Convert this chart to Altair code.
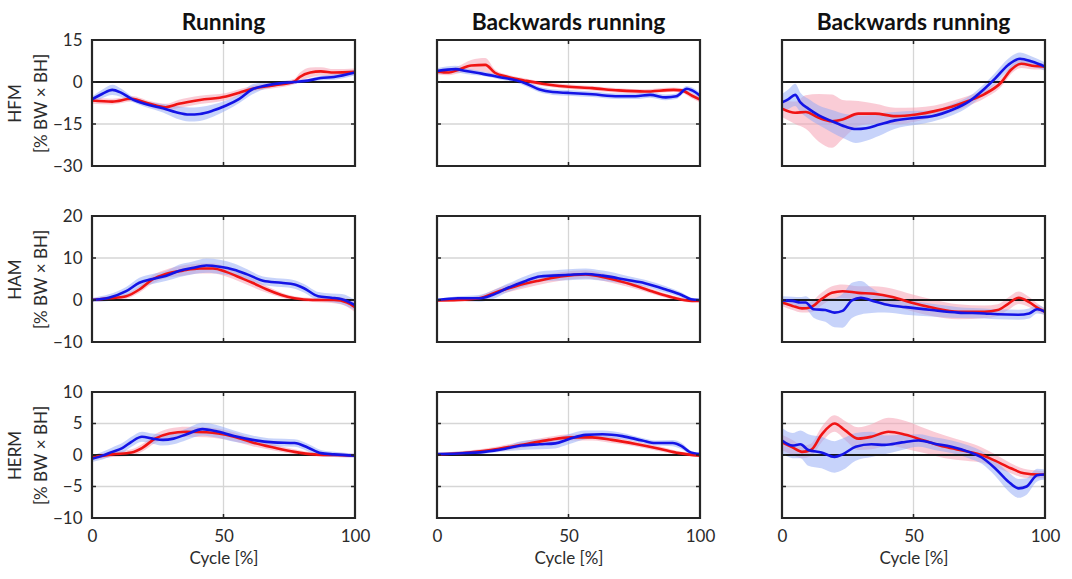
import altair as alt
import pandas as pd

# ---------------- data ----------------
COL_TITLES = ["Running", "Backwards running", "Backwards running"]
ROW_NAMES = ["HFM", "HAM", "HERM"]
Y_DOMAINS = [[-30, 15], [-10, 20], [-10, 10]]
Y_TICKS = [[-30, -15, 0, 15], [-10, 0, 10, 20], [-10, -5, 0, 5, 10]]
X_TICKS = [0, 50, 100]

# HFM - Running
HFM_RUN_BLUE_X = [0, 4, 7.7, 11, 15, 20, 27, 32, 37, 41, 46, 51, 56, 61, 66.5, 72, 77, 82, 87, 92, 100]
HFM_RUN_BLUE_Y = [-6.2, -4.2, -2.8, -3.8, -6, -7.8, -9.4, -10.8, -11.6, -11.4, -10.2, -8.4, -6, -2.6, -1.2, -0.4, 0, 0.5, 1.4, 1.8, 3.4]
HFM_RUN_BLUE_SD = [1, 1.5, 1.8, 1.5, 1, 1, 1.5, 2.2, 2.5, 2.5, 2.2, 1.8, 1.5, 1.8, 1, 0.8, 0.6, 0.6, 0.8, 1, 1]
HFM_RUN_RED_X = [0, 7.7, 15, 22, 28, 33, 41, 51, 56, 61, 69, 77, 79, 83, 87, 92, 100]
HFM_RUN_RED_Y = [-6.6, -7, -6, -7.8, -9, -7.8, -6.4, -5.2, -3.8, -2.4, -1.2, 0.2, 1.8, 3.4, 3.8, 3.4, 3.6]
HFM_RUN_RED_SD = [1.2, 1, 1, 1, 1.2, 1.5, 1.5, 1.3, 1.2, 1, 1, 1, 1.5, 1.8, 1.5, 1.2, 1.2]

# HFM - Backwards running (1)
HFM_BR1_BLUE_X = [0, 7, 11, 17, 23.5, 30, 34, 39, 44, 50, 59, 69, 75.5, 81, 87, 91, 95, 97, 100]
HFM_BR1_BLUE_Y = [3.9, 4.6, 3.9, 3, 1.8, 0.6, -0.6, -2.7, -3.6, -3.9, -4.4, -5.1, -5.1, -4.6, -5.5, -5.1, -2.4, -3, -4.9]
HFM_BR1_BLUE_SD = [1, 1.2, 1, 0.8, 0.8, 0.8, 1, 1, 1, 1, 1, 1, 1, 1, 1, 1, 1, 1, 1]
HFM_BR1_RED_X = [0, 4.5, 8, 13, 18.4, 22, 27, 34, 40, 49, 59, 69, 79, 90, 93, 97, 100]
HFM_BR1_RED_Y = [3.7, 3.4, 4.3, 5.9, 6.1, 3.3, 1.8, 0.4, -0.6, -1.6, -2.2, -3, -3.4, -2.8, -3, -4.9, -6.3]
HFM_BR1_RED_SD = [1, 1, 1.3, 2, 2.5, 1.2, 0.8, 0.8, 0.8, 0.8, 0.8, 0.8, 0.8, 0.8, 0.8, 1, 1]

# HFM - Backwards running (2)
HFM_BR2_BLUE_X = [0, 2.5, 5, 7, 10, 14, 19, 24, 28, 32, 37, 43, 51, 57, 65, 71, 77, 81, 86, 90.5, 95, 100]
HFM_BR2_BLUE_Y = [-7.3, -6.1, -4.6, -7.3, -9.5, -11.9, -14, -15.9, -16.8, -16.5, -15.2, -13.7, -12.8, -12.2, -9.8, -7, -2.4, 1.2, 6.1, 8.3, 7.3, 5.5]
HFM_BR2_BLUE_SD = [3, 3.5, 4, 3.5, 3.5, 3.5, 4, 4.5, 5, 4.5, 4, 3, 2.5, 2, 2, 1.8, 1.8, 2, 2.2, 2.2, 1.8, 1.5]
HFM_BR2_RED_X = [0, 5, 9, 14, 19, 23, 29, 35.5, 43, 51, 58, 64.5, 71, 77, 83.5, 87, 91, 96, 100]
HFM_BR2_RED_Y = [-9.5, -11, -10.7, -12.8, -14, -13.4, -11.3, -11.3, -12.2, -11.6, -10.4, -8.8, -6.7, -4.3, 0, 4.3, 6.5, 5.7, 5.5]
HFM_BR2_RED_SD = [3, 4, 6, 8.5, 9.5, 7, 4.5, 3.5, 3, 2.5, 2, 2, 1.8, 1.5, 1.5, 1.5, 1.5, 1.2, 1]

# HAM - Running
HAM_RUN_BLUE_X = [0, 6.4, 13, 18, 23, 28, 33, 38, 43.5, 48.6, 54, 59, 65, 72, 77, 80.6, 86, 91, 95, 100]
HAM_RUN_BLUE_Y = [0, 0.55, 2.1, 4.1, 5, 5.7, 6.9, 7.6, 8.2, 7.9, 7.2, 6.1, 4.6, 4.1, 3.7, 2.8, 0.9, 0.55, 0.2, -1.2]
HAM_RUN_BLUE_SD = [0.5, 0.8, 1, 1.2, 1.2, 1.2, 1.5, 1.5, 1.7, 1.7, 1.5, 1.2, 1, 1, 1, 1, 1, 1, 1.2, 1.2]
HAM_RUN_RED_X = [0, 6.4, 13, 18, 23, 28, 34.5, 41, 46, 51, 56, 61, 66.5, 72, 77, 84, 92, 97, 100]
HAM_RUN_RED_Y = [0, 0.4, 0.9, 2.5, 4.9, 6.2, 7, 7.5, 7.5, 6.7, 5.4, 4.1, 2.5, 1.2, 0.4, 0, 0, -0.6, -1.7]
HAM_RUN_RED_SD = [0.4, 0.5, 0.6, 0.8, 1, 1, 1.2, 1.2, 1.2, 1.1, 1, 1, 0.8, 0.6, 0.5, 0.5, 0.8, 1, 1.2]

# HAM - Backwards running (1)
HAM_BR1_BLUE_X = [0, 8, 16, 21, 27, 34, 39, 44, 50, 56.5, 63, 72, 79, 87, 93, 96.5, 100]
HAM_BR1_BLUE_Y = [0, 0.4, 0.4, 1.2, 2.9, 4.6, 5.6, 5.8, 6, 6.2, 5.8, 4.8, 4, 2.5, 1.2, 0.2, 0]
HAM_BR1_BLUE_SD = [0.3, 0.5, 0.8, 1, 1, 1.2, 1.2, 1.2, 1.3, 1.3, 1.2, 1, 0.8, 0.8, 0.6, 0.4, 0.3]
HAM_BR1_RED_X = [0, 8, 16, 23.5, 30, 38, 47, 56.5, 65, 74, 82, 89.6, 97, 100]
HAM_BR1_RED_Y = [-0.1, 0, 0.4, 2.1, 3.3, 4.5, 5.6, 6.1, 5.2, 3.7, 2, 0.6, -0.2, -0.2]
HAM_BR1_RED_SD = [0.3, 0.4, 0.6, 0.8, 1, 1, 1, 1, 0.9, 0.8, 0.6, 0.5, 0.4, 0.3]

# HAM - Backwards running (2)
HAM_BR2_BLUE_X = [0, 4, 7, 9, 12, 16.5, 20, 23, 26.6, 30, 34, 39, 47, 57, 67, 77, 82, 90, 94, 97, 100]
HAM_BR2_BLUE_Y = [-0.1, -0.2, -0.6, -0.6, -2.2, -2.4, -3, -2.6, -0.1, 0.55, -0.1, -1, -1.7, -2.4, -3, -3.2, -3.4, -3.5, -3.2, -2.2, -2.8]
HAM_BR2_BLUE_SD = [1, 1, 1.3, 1.5, 2, 2.8, 3.5, 4, 4.2, 4, 3, 2, 1.8, 1.5, 1.3, 1.2, 1.2, 1.2, 1.2, 1, 0.8]
HAM_BR2_RED_X = [0, 4, 7.6, 11, 15, 19, 23, 29, 35, 42, 49, 57, 67, 77, 82, 86, 90, 94, 97, 100]
HAM_BR2_RED_Y = [-0.6, -1.4, -2, -1.7, 0.2, 1.7, 2.1, 1.7, 1.5, 0.7, -0.6, -1.8, -2.8, -2.8, -2.4, -0.9, 0.55, -0.5, -1.8, -2.8]
HAM_BR2_RED_SD = [0.8, 1, 1, 1.2, 1.5, 1.6, 1.6, 1.6, 1.8, 2, 2, 2, 1.8, 1.5, 1.4, 1.5, 1.5, 1.2, 1, 0.8]

# HERM - Running
HERM_RUN_BLUE_X = [0, 4, 7.7, 11.5, 15, 19, 23, 27, 31, 36, 42, 47, 54, 61, 69, 77, 82, 87, 92, 100]
HERM_RUN_BLUE_Y = [-0.6, -0.1, 0.5, 1.1, 2.1, 2.9, 2.6, 2.4, 2.6, 3.3, 4.1, 3.8, 3, 2.4, 2, 1.9, 1.2, 0.3, 0.1, -0.1]
HERM_RUN_BLUE_SD = [0.5, 0.6, 0.7, 0.8, 0.8, 0.8, 0.8, 0.9, 0.9, 0.9, 1, 1, 0.9, 0.7, 0.6, 0.6, 0.6, 0.5, 0.4, 0.3]
HERM_RUN_RED_X = [0, 7.7, 15, 19, 24, 29.4, 36, 43.5, 48, 54, 61, 69, 77, 84.5, 92, 100]
HERM_RUN_RED_Y = [-0.4, 0.1, 0.4, 1.1, 2.6, 3.4, 3.7, 3.6, 3.4, 2.9, 2, 1.2, 0.5, 0.1, 0, -0.1]
HERM_RUN_RED_SD = [0.4, 0.4, 0.5, 0.6, 0.7, 0.8, 0.8, 0.8, 0.8, 0.7, 0.6, 0.5, 0.4, 0.3, 0.3, 0.3]

# HERM - Backwards running (1)
HERM_BR1_BLUE_X = [0, 8, 18, 26, 32, 39, 45, 50, 56.5, 63, 70.5, 78, 83, 89.6, 93, 96, 100]
HERM_BR1_BLUE_Y = [0.15, 0.25, 0.5, 1, 1.5, 1.7, 1.85, 2.5, 3.2, 3.3, 3, 2.3, 1.9, 1.9, 1.4, 0.5, 0.15]
HERM_BR1_BLUE_SD = [0.2, 0.3, 0.3, 0.4, 0.7, 0.8, 0.8, 0.8, 0.7, 0.6, 0.5, 0.4, 0.4, 0.5, 0.5, 0.3, 0.2]
HERM_BR1_RED_X = [0, 12, 23.5, 34, 42.6, 51, 59, 66.5, 75.6, 84.5, 92, 100]
HERM_BR1_RED_Y = [0.1, 0.4, 1, 1.75, 2.4, 2.8, 2.8, 2.4, 1.75, 1, 0.3, -0.1]
HERM_BR1_RED_SD = [0.2, 0.3, 0.4, 0.5, 0.5, 0.5, 0.5, 0.5, 0.4, 0.4, 0.3, 0.2]

# HERM - Backwards running (2)
HERM_BR2_BLUE_X = [0, 4, 7, 10, 15, 20, 23, 28, 34, 39, 45.6, 52, 58, 64.5, 71, 76, 81, 86, 90, 93, 97, 100]
HERM_BR2_BLUE_Y = [2.3, 1.5, 1.7, 0.8, 0.4, -0.3, 0.1, 1.3, 1.7, 1.6, 2, 2.3, 1.8, 1.3, 0.5, -0.4, -2.1, -4.2, -5.3, -5, -3.2, -3.1]
HERM_BR2_BLUE_SD = [2, 2, 2.2, 2.5, 2.5, 2.5, 2.5, 2.2, 2, 1.5, 1.2, 1, 1, 1, 1, 1, 1.2, 1.5, 1.5, 1.3, 1, 0.8]
HERM_BR2_RED_X = [0, 4, 7.6, 11, 15, 20, 24, 29, 34, 40.5, 47, 54, 62, 70, 76, 81, 87, 92, 97.5, 100]
HERM_BR2_RED_Y = [2, 1.2, 0.5, 0.8, 3.2, 5, 3.9, 2.6, 2.9, 3.7, 3.2, 2.3, 1.3, 0.6, 0, -0.9, -2.1, -2.9, -3.1, -3.1]
HERM_BR2_RED_SD = [1.2, 1.2, 1, 1, 1.2, 1.3, 1.5, 1.8, 2, 2.2, 2.2, 2, 1.8, 1.5, 1.2, 1, 0.8, 0.7, 0.6, 0.5]

PANELS = [
    [(HFM_RUN_RED_X, HFM_RUN_RED_Y, HFM_RUN_RED_SD, HFM_RUN_BLUE_X, HFM_RUN_BLUE_Y, HFM_RUN_BLUE_SD),
     (HFM_BR1_RED_X, HFM_BR1_RED_Y, HFM_BR1_RED_SD, HFM_BR1_BLUE_X, HFM_BR1_BLUE_Y, HFM_BR1_BLUE_SD),
     (HFM_BR2_RED_X, HFM_BR2_RED_Y, HFM_BR2_RED_SD, HFM_BR2_BLUE_X, HFM_BR2_BLUE_Y, HFM_BR2_BLUE_SD)],
    [(HAM_RUN_RED_X, HAM_RUN_RED_Y, HAM_RUN_RED_SD, HAM_RUN_BLUE_X, HAM_RUN_BLUE_Y, HAM_RUN_BLUE_SD),
     (HAM_BR1_RED_X, HAM_BR1_RED_Y, HAM_BR1_RED_SD, HAM_BR1_BLUE_X, HAM_BR1_BLUE_Y, HAM_BR1_BLUE_SD),
     (HAM_BR2_RED_X, HAM_BR2_RED_Y, HAM_BR2_RED_SD, HAM_BR2_BLUE_X, HAM_BR2_BLUE_Y, HAM_BR2_BLUE_SD)],
    [(HERM_RUN_RED_X, HERM_RUN_RED_Y, HERM_RUN_RED_SD, HERM_RUN_BLUE_X, HERM_RUN_BLUE_Y, HERM_RUN_BLUE_SD),
     (HERM_BR1_RED_X, HERM_BR1_RED_Y, HERM_BR1_RED_SD, HERM_BR1_BLUE_X, HERM_BR1_BLUE_Y, HERM_BR1_BLUE_SD),
     (HERM_BR2_RED_X, HERM_BR2_RED_Y, HERM_BR2_RED_SD, HERM_BR2_BLUE_X, HERM_BR2_BLUE_Y, HERM_BR2_BLUE_SD)],
]

# ---------------- styling ----------------
FONT = "Lato"
TEXT = "#2b2b2b"
RED = "#f01414"
BLUE = "#1414e6"
RED_BAND = "#f5a3b5"
BLUE_BAND = "#8fa8f5"
GRID = "#d6d6d6"
FRAME = "#262626"
W, H = 263, 126


def series_df(xs, ys, sds):
    return pd.DataFrame({
        "x": xs,
        "y": ys,
        "lo": [a - b for a, b in zip(ys, sds)],
        "hi": [a + b for a, b in zip(ys, sds)],
    })


def panel(r, c):
    rx, ry, rsd, bx, by, bsd = PANELS[r][c]
    red = series_df(rx, ry, rsd)
    blue = series_df(bx, by, bsd)
    left = c == 0
    bottom = r == 2

    xscale = alt.Scale(domain=[0, 100], nice=False, zero=False)
    yscale = alt.Scale(domain=Y_DOMAINS[r], nice=False, zero=False)

    xaxis = alt.Axis(
        values=X_TICKS, grid=False, domain=False, ticks=False,
        labels=bottom, labelFlush=False, labelOverlap=False,
        labelFontSize=17, labelFont=FONT, labelColor=TEXT, labelPadding=10,
        title="Cycle [%]" if bottom else None,
        titleFontSize=17, titleFont=FONT, titleFontWeight="normal",
        titleColor=TEXT, titlePadding=6, minExtent=0,
    )
    yaxis = alt.Axis(
        values=Y_TICKS[r], grid=False, domain=False, ticks=False,
        labels=left, labelFlush=False, labelOverlap=False,
        labelFontSize=17, labelFont=FONT, labelColor=TEXT, labelPadding=10,
        title=[ROW_NAMES[r], "[% BW × BH]"] if left else None,
        titleFontSize=17, titleFont=FONT, titleFontWeight="normal",
        titleColor=TEXT, titlePadding=2, titleLineHeight=26, minExtent=0,
    )

    def X(field):
        return alt.X(field, scale=xscale, axis=xaxis)

    def Y(field):
        return alt.Y(field, scale=yscale, axis=yaxis)

    inner_y = [v for v in Y_TICKS[r] if Y_DOMAINS[r][0] < v < Y_DOMAINS[r][1]]
    inner_x = [v for v in X_TICKS if 0 < v < 100]
    ygrid_df = pd.DataFrame({"g": inner_y})
    xgrid_df = pd.DataFrame({"g": inner_x})

    ygrid = alt.Chart(ygrid_df).mark_rule(color=GRID, strokeWidth=1.3).encode(
        y=Y("g:Q"), x=alt.value(0), x2=alt.value(W))
    xgrid = alt.Chart(xgrid_df).mark_rule(color=GRID, strokeWidth=1.3).encode(
        x=X("g:Q"), y=alt.value(0), y2=alt.value(H))

    # short inward tick marks on the frame (as in the reference)
    tick_l = alt.Chart(ygrid_df).mark_rule(color=FRAME, strokeWidth=1.5).encode(
        y=Y("g:Q"), x=alt.value(0), x2=alt.value(4))
    tick_r = alt.Chart(ygrid_df).mark_rule(color=FRAME, strokeWidth=1.5).encode(
        y=Y("g:Q"), x=alt.value(W - 4), x2=alt.value(W))
    tick_t = alt.Chart(xgrid_df).mark_rule(color=FRAME, strokeWidth=1.5).encode(
        x=X("g:Q"), y=alt.value(0), y2=alt.value(4))
    tick_b = alt.Chart(xgrid_df).mark_rule(color=FRAME, strokeWidth=1.5).encode(
        x=X("g:Q"), y=alt.value(H - 4), y2=alt.value(H))

    red_band = alt.Chart(red).mark_area(color=RED_BAND, opacity=0.55, interpolate="monotone").encode(
        x=X("x:Q"), y=Y("lo:Q"), y2="hi:Q")
    blue_band = alt.Chart(blue).mark_area(color=BLUE_BAND, opacity=0.5, interpolate="monotone").encode(
        x=X("x:Q"), y=Y("lo:Q"), y2="hi:Q")
    zero = alt.Chart(pd.DataFrame({"z": [0]})).mark_rule(color="#1a1a1a", strokeWidth=2).encode(
        y=Y("z:Q"), x=alt.value(0), x2=alt.value(W))
    red_line = alt.Chart(red).mark_line(color=RED, strokeWidth=2.6, interpolate="monotone").encode(
        x=X("x:Q"), y=Y("y:Q"))
    blue_line = alt.Chart(blue).mark_line(color=BLUE, strokeWidth=2.6, interpolate="monotone").encode(
        x=X("x:Q"), y=Y("y:Q"))

    frame = alt.Chart(pd.DataFrame({"f": [0]})).mark_rect(
        fill=None, fillOpacity=0, stroke=FRAME, strokeWidth=2.2
    ).encode(x=alt.value(0), x2=alt.value(W), y=alt.value(0), y2=alt.value(H))

    layers = [ygrid, xgrid, red_band, blue_band, zero, red_line, blue_line,
              tick_l, tick_r, tick_t, tick_b, frame]
    if r == 0:
        title = alt.Chart(pd.DataFrame({"t": [COL_TITLES[c]]})).mark_text(
            font=FONT, fontSize=22.8, fontWeight="bold", color="#111111",
            align="center", baseline="middle", clip=False,
        ).encode(x=alt.value(W / 2), y=alt.value(-17), text="t:N")
        layers.append(title)
    return alt.layer(*layers).properties(width=W, height=H)


charts = [panel(r, c) for r in range(3) for c in range(3)]
chart = alt.concat(
    *charts, columns=3, spacing={"row": 50, "column": 82}, bounds="flush"
).properties(
    padding={"left": 5, "top": 11, "right": 5, "bottom": 5}
).configure_view(
    stroke=None
).configure(background="white")

chart.save("out.html", embed_options={"renderer": "svg", "actions": False})
